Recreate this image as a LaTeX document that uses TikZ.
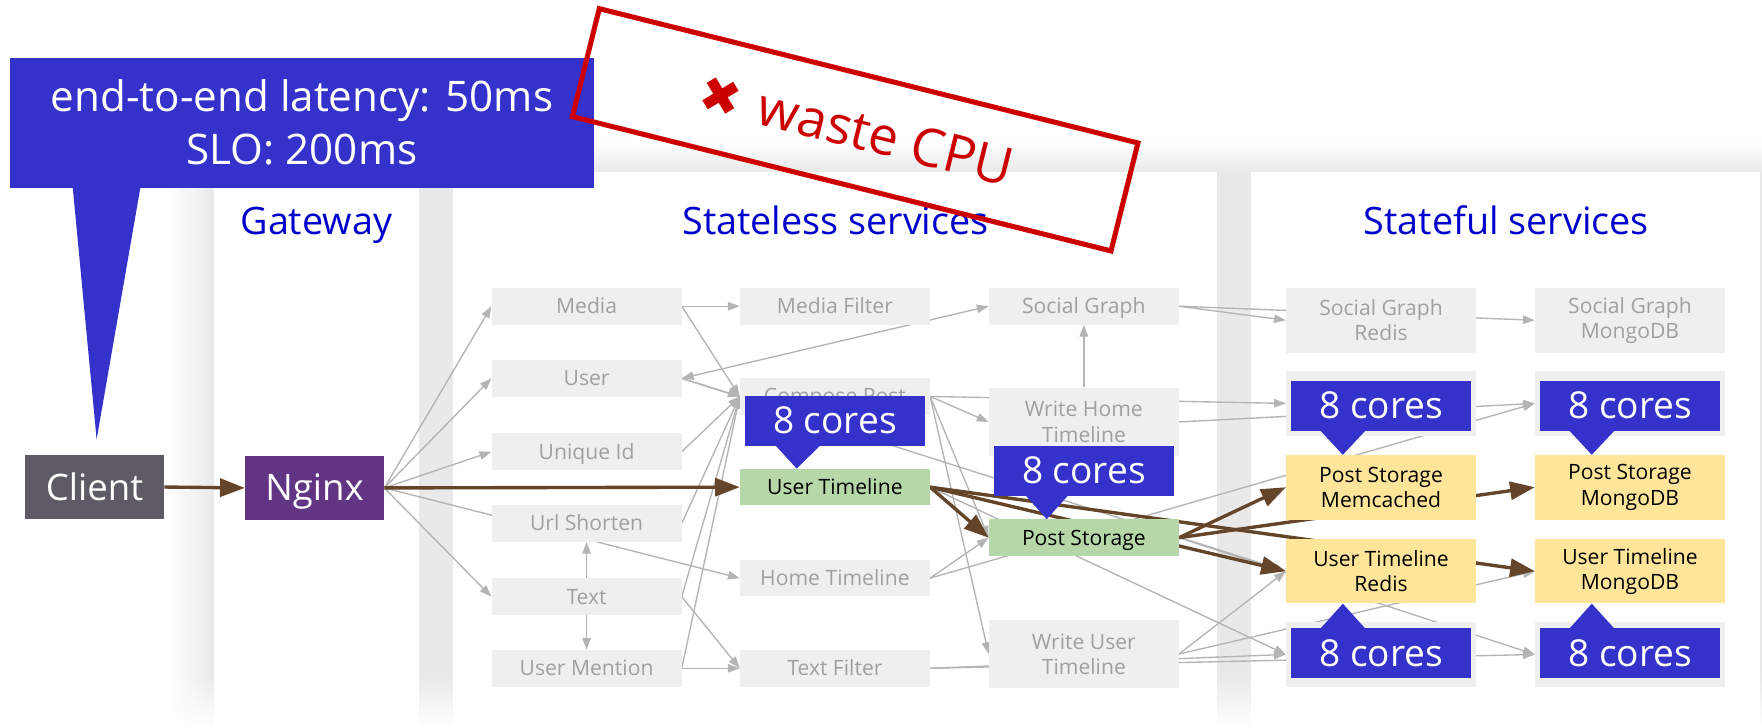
\documentclass[tikz,border=0pt]{standalone}
\usepackage{fontspec}
\setmainfont{Open Sans}
\newfontfamily\symfont{DejaVu Sans}
\usetikzlibrary{arrows.meta,fadings}

\definecolor{calloutblue}{HTML}{3532CC}
\definecolor{headblue}{HTML}{0000CC}
\definecolor{alertred}{HTML}{CC0000}
\definecolor{boxgray}{HTML}{EFEFEF}
\definecolor{labelgray}{HTML}{A0A0A0}
\definecolor{linkgray}{HTML}{B4B4B4}
\definecolor{hotgreen}{HTML}{B6D7A8}
\definecolor{hotyellow}{HTML}{FFE599}
\definecolor{clientgray}{HTML}{5E5B66}
\definecolor{nginxpurple}{HTML}{623584}
\definecolor{hotbrown}{HTML}{654529}
\definecolor{shadowgray}{HTML}{E9E9E9}

\pgfdeclarelayer{panels}
\pgfdeclarelayer{links}
\pgfsetlayers{panels,links,main}

\begin{document}
\begin{tikzpicture}[x=1pt,y=-1pt,
  svcbox/.style={minimum width=169pt, inner sep=0pt, font=\fontsize{18.8}{22.5}\selectfont},
  oneline/.style={svcbox, minimum height=32.6pt, text height=13pt, text depth=0pt},
  twoline/.style={svcbox, align=center},
  coldbox/.style={fill=boxgray, text=labelgray},
  hotsvc/.style={fill=hotgreen, text=black},
  hotstore/.style={fill=hotyellow, text=black},
  gatebox/.style={minimum width=123.8pt, minimum height=56.7pt, inner sep=0pt, text=white,
    font=\fontsize{32.5}{32.5}\selectfont, text height=23.2pt, text depth=0pt},
  corebox/.style={fill=calloutblue, text=white, minimum width=160.2pt, minimum height=44.6pt,
    inner sep=0pt, font=\fontsize{33}{33}\selectfont, text height=22.6pt, text depth=0pt},
  panelhead/.style={anchor=base, inner sep=0pt, text=headblue, font=\fontsize{33.6}{33.6}\selectfont},
  slotext/.style={anchor=base, inner sep=0pt, text=white, font=\fontsize{37.5}{37.5}\selectfont},
  graylink/.style={draw=linkgray, line width=1.2pt, -{Triangle[length=10.5pt,width=7.5pt]}},
  graylinkboth/.style={graylink, {Triangle[length=10.5pt,width=7.5pt]}-{Triangle[length=10.5pt,width=7.5pt]}},
  hotlink/.style={draw=hotbrown, line width=3pt, -{Triangle[length=22pt,width=16pt]}}
]
\useasboundingbox (0,0) rectangle (1568,647);

% ---------- panels and their shadows ----------
\begin{pgfonlayer}{panels}
  \fill[white] (0,0) rectangle (1568,647);
  \shade[left color=white, right color=shadowgray] (150,153) rectangle (190,647);
  \shade[top color=white, bottom color=shadowgray] (150,125) rectangle (1568,153);
  \fill[shadowgray] (373,153) rectangle (403,647);
  \fill[shadowgray] (1083,153) rectangle (1113,647);
  \fill[shadowgray] (1566.5,153) rectangle (1568,647);
  \fill[white, path fading=north] (140,600) rectangle (1568,648);
\end{pgfonlayer}

\node[panelhead] (hgate) at (281.5,209) {Gateway};
\node[panelhead] (hless) at (743.5,209) {Stateless services};
\node[panelhead] (hfull) at (1340.5,209) {Stateful services};

% ---------- entry ----------
\node[gatebox, fill=clientgray] (client) at (84.1,433.4) {Client};
\node[gatebox, fill=nginxpurple] (nginx) at (279.9,434.2) {Nginx};

% ---------- stateless services ----------
\node[oneline,coldbox] (media) at (522,272.5) {Media};
\node[oneline,coldbox] (user)  at (522,336.7) {User};
\node[oneline,coldbox] (uid)   at (522,402)   {Unique Id};
\node[oneline,coldbox] (url)   at (522,465.7) {Url Shorten};
\node[oneline,coldbox] (text)  at (522,531)   {Text};
\node[oneline,coldbox] (um)    at (522,594.7) {User Mention};

\node[oneline,coldbox] (mf) at (743,272.5) {Media Filter};
\node[oneline,coldbox] (cp) at (743,352.8) {Compose Post};
\node[oneline,hotsvc]  (ut) at (743,433.5) {User Timeline};
\node[oneline,coldbox] (ht) at (743,514.5) {Home Timeline};
\node[oneline,coldbox] (tf) at (743,594.7) {Text Filter};

\node[oneline,coldbox] (sg)  at (964.5,272.5) {Social Graph};
\node[twoline,coldbox,minimum height=61pt] (wht) at (964.5,375.5) {Write Home\\Timeline};
\node[oneline,hotsvc] (ps)  at (964.5,478.5) {Post Storage};
\node[twoline,coldbox,minimum height=60pt] (wut) at (964.5,582) {Write User\\Timeline};

% ---------- stateful services ----------
\node[twoline,coldbox,minimum height=57.4pt] (sgr)  at (1229,285)   {Social Graph\\Redis};
\node[twoline,coldbox,minimum height=57.4pt] (sgm)  at (1450.5,285) {Social Graph\\MongoDB};
\node[twoline,coldbox,minimum height=57.4pt] (st2a) at (1229,359)   {};
\node[twoline,coldbox,minimum height=57.4pt] (st2b) at (1450.5,359) {};
\node[twoline,hotstore,minimum height=57.4pt] (psm)  at (1229,433.6)   {Post Storage\\Memcached};
\node[twoline,hotstore,minimum height=57.4pt] (psdb) at (1450.5,433.6) {Post Storage\\MongoDB};
\node[twoline,hotstore,minimum height=57.4pt] (utr)  at (1229,508.3)   {User Timeline\\Redis};
\node[twoline,hotstore,minimum height=57.4pt] (utdb) at (1450.5,508.3) {User Timeline\\MongoDB};
\node[twoline,coldbox,minimum height=57.4pt] (st5a) at (1229,582.4)   {};
\node[twoline,coldbox,minimum height=57.4pt] (st5b) at (1450.5,582.4) {};

% ---------- call graph ----------
\begin{pgfonlayer}{links}
  \draw[graylink] (nginx.east) -- (media.west);
  \draw[graylink] (nginx.east) -- (user.west);
  \draw[graylink] (nginx.east) -- (uid.west);
  \draw[graylink] (nginx.east) -- (ht.west);
  \draw[graylink] (nginx.east) -- (text.west);
  \draw[graylink] (media.east) -- (mf.west);
  \draw[graylink] (media.east) -- (cp.west);
  \draw[graylink] (user.east) -- (cp.west);
  \draw[graylink] (uid.east) -- (cp.west);
  \draw[graylink] (url.east) -- (cp.west);
  \draw[graylink] (text.east) -- (cp.west);
  \draw[graylink] (um.east) -- (cp.west);
  \draw[graylinkboth] (user.east) -- (sg.west);
  \draw[graylink] (text.north) -- (url.south);
  \draw[graylink] (text.south) -- (um.north);
  \draw[graylink] (text.east) -- (tf.west);
  \draw[graylink] (um.east) -- (tf.west);
  \draw[graylink] (cp.east) -- (wht.west);
  \draw[graylink] (cp.east) -- (st2a.west);
  \draw[graylink] (cp.east) -- (ps.west);
  \draw[graylink] (cp.east) -- (wut.west);
  \draw[graylink] (wht.north) -- (sg.south);
  \draw[graylink] (sg.east) -- (sgr.west);
  \draw[graylink] (sg.east) -- (sgm.west);
  \draw[graylink] (wht.east) -- (st2b.west);
  \draw[graylink] (ht.east) -- (ps.west);
  \draw[graylink] (ht.east) -- (st2b.west);
  \draw[graylink] (user.east) -- (utr.west);
  \draw[graylink] (ut.east) -- (st5a.west);
  \draw[graylink] (ps.east) -- (st5b.west);
  \draw[graylink] (tf.east) -- (st5a.west);
  \draw[graylink] (tf.east) -- (st5b.west);
  \draw[graylink] (wut.east) -- (utr.west);
  \draw[graylink] (wut.east) -- (utdb.west);
  % hot path
  \draw[hotlink] (client.east) -- (nginx.west);
  \draw[hotlink] (nginx.east) -- (ut.west);
  \draw[hotlink] (ut.east) -- (ps.west);
  \draw[hotlink] (ut.east) -- (utr.west);
  \draw[hotlink] (ut.east) -- (utdb.west);
  \draw[hotlink] (ps.east) -- (psm.west);
  \draw[hotlink] (ps.east) -- (psdb.west);
\end{pgfonlayer}

% ---------- core allocations ----------
\node[corebox] (ka) at (743,374.3) {8 cores};
\fill[calloutblue] ([shift={(-53pt,0.5pt)}]ka.south) -- ([shift={(-13pt,0.5pt)}]ka.south) -- ([xshift=-34pt]ut.north) -- cycle;
\node[corebox] (kb) at (964.6,418.8) {8 cores};
\fill[calloutblue] ([shift={(-52pt,0.5pt)}]kb.south) -- ([shift={(-14pt,0.5pt)}]kb.south) -- ([xshift=-33pt]ps.north) -- cycle;
\node[corebox] (kc) at (1229,361.3) {8 cores};
\fill[calloutblue] ([shift={(-54pt,0.5pt)}]kc.south) -- ([shift={(-14pt,0.5pt)}]kc.south) -- ([xshift=-34pt]psm.north) -- cycle;
\node[corebox] (kd) at (1450.6,361.3) {8 cores};
\fill[calloutblue] ([shift={(-54pt,0.5pt)}]kd.south) -- ([shift={(-14pt,0.5pt)}]kd.south) -- ([xshift=-34pt]psdb.north) -- cycle;
\node[corebox] (ke) at (1229,581.4) {8 cores};
\fill[calloutblue] ([shift={(-54pt,-0.5pt)}]ke.north) -- ([shift={(-14pt,-0.5pt)}]ke.north) -- ([xshift=-34pt]utr.south) -- cycle;
\node[corebox] (kf) at (1450.6,581.4) {8 cores};
\fill[calloutblue] ([shift={(-54pt,-0.5pt)}]kf.north) -- ([shift={(-14pt,-0.5pt)}]kf.north) -- ([xshift=-34pt]utdb.south) -- cycle;

% ---------- latency callout ----------
\node[fill=calloutblue, minimum width=519.7pt, minimum height=115.4pt, inner sep=0pt] (slo) at (268.75,109.3) {};
\coordinate (slotip) at (86,391);
\fill[calloutblue] (64.7,166.5) -- (125,166.5) -- (slotip) -- cycle;
\node[slotext] (slo1) at (268.75,99.4) {end-to-end latency: 50ms};
\node[slotext] (slo2) at (268.75,146) {SLO: 200ms};

% ---------- stamp ----------
\node[draw=alertred, line width=4.5pt, minimum width=494pt, minimum height=99pt, inner sep=0pt, rotate=-14] (stamp) at (761,115.5) {};
\node[rotate=-14, inner sep=0pt, text=alertred, font=\symfont\fontsize{44}{44}\selectfont] (stampmark) at (641.4,85.7) {✖};
\node[rotate=-14, anchor=base, inner sep=0pt, text=alertred, font=\fontsize{47}{47}\selectfont] (stamptext) at (784.5,137.8) {waste CPU};
\end{tikzpicture}
\end{document}
